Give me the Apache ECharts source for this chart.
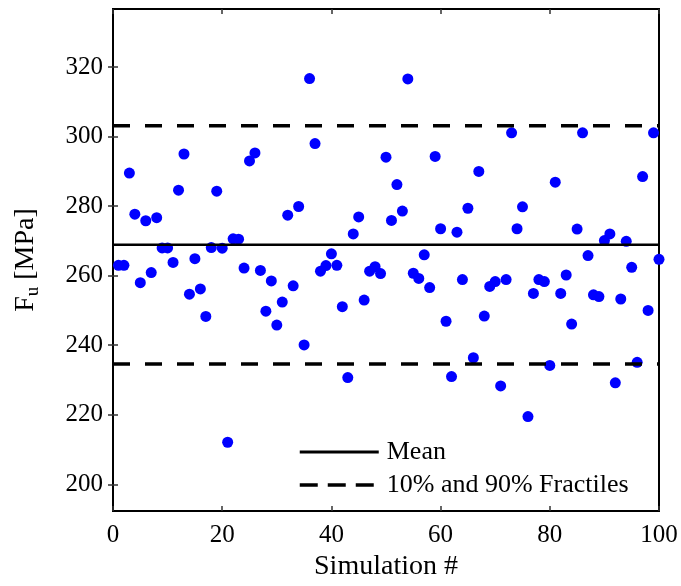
<!DOCTYPE html>
<html>
<head>
<meta charset="utf-8">
<script src="https://cdn.jsdelivr.net/npm/echarts@6/dist/echarts.min.js"></script>
<style>html,body{margin:0;padding:0;background:#fff}#c{width:681px;height:586px}</style>
</head>
<body>
<div id="c"></div>
<script>
// Simulation numbers 1..100
const simulations = [];
for (let i = 1; i <= 100; i++) simulations.push(i);
// F_u values [MPa]
const fuValues = [
  263.0, 263.0, 289.5, 277.7, 258.0, 275.8, 260.9, 276.7, 268.0, 268.0,
  263.8, 284.6, 295.0, 254.7, 264.9, 256.2, 248.3, 268.1, 284.3, 267.9,
  212.1, 270.6, 270.5, 262.2, 293.0, 295.3, 261.5, 249.8, 258.5, 245.8,
  252.4, 277.4, 257.1, 279.9, 240.1, 316.7, 298.0, 261.3, 262.9, 266.3,
  263.0, 251.1, 230.7, 272.0, 276.9, 253.0, 261.3, 262.6, 260.6, 294.1,
  275.9, 286.2, 278.6, 316.6, 260.7, 259.2, 266.0, 256.6, 294.3, 273.5,
  246.9, 231.0, 272.5, 258.9, 279.4, 236.4, 290.0, 248.4, 256.9, 258.3,
  228.3, 258.9, 301.1, 273.5, 279.8, 219.5, 254.9, 258.9, 258.3, 234.2,
  286.9, 254.9, 260.2, 246.1, 273.4, 301.1, 265.8, 254.5, 254.0, 270.1,
  272.0, 229.2, 253.3, 269.9, 262.4, 235.1, 288.5, 250.0, 301.1, 264.7
];
const meanValue = 268.9;
const fractileLow = 234.6;
const fractileHigh = 303.1;
const xRange = [0, 100];
const yRange = [192.3, 336.7];
const xTicks = [0, 20, 40, 60, 80, 100];
const yTicks = [200, 220, 240, 260, 280, 300, 320];
const legendNames = ['Mean', '10% and 90% Fractiles'];

const FONT = '"Liberation Serif", "Times New Roman", serif';
const scatterData = simulations.map((s, i) => [s, fuValues[i]]);
const meanData = [[xRange[0], meanValue], [xRange[1], meanValue]];
const fractData = [[xRange[0], fractileHigh], [xRange[1], fractileHigh], '-', [xRange[0], fractileLow], [xRange[1], fractileLow]];

const tickStyle = { inside: true, length: 5, lineStyle: { color: '#333', width: 1.5 } };

const chart = echarts.init(document.getElementById('c'), null, { renderer: 'canvas' });
chart.setOption({
  animation: false,
  backgroundColor: '#fff',
  grid: { left: 113, right: 22, top: 9, bottom: 72, show: true, borderColor: '#000', borderWidth: 2, containLabel: false },
  xAxis: [{
    type: 'value', min: xRange[0], max: xRange[1], interval: 20,
    name: 'Simulation #', nameLocation: 'middle', nameGap: 41,
    nameTextStyle: { fontFamily: FONT, fontSize: 28, color: '#000' },
    axisLine: { show: false }, splitLine: { show: false },
    axisTick: Object.assign({ customValues: xTicks }, tickStyle),
    axisLabel: { customValues: xTicks, fontFamily: FONT, fontSize: 25, color: '#000', margin: 12 }
  }, {
    type: 'value', position: 'top', min: xRange[0], max: xRange[1], interval: 20,
    axisLine: { show: false }, splitLine: { show: false },
    axisTick: Object.assign({ customValues: xTicks }, tickStyle),
    axisLabel: { show: false }
  }],
  yAxis: [{
    type: 'value', min: yRange[0], max: yRange[1],
    name: '{a|F}{b|u}{a| [MPa]}', nameLocation: 'middle', nameGap: 70, nameRotate: 90,
    nameTextStyle: {
      fontFamily: FONT, color: '#000',
      rich: {
        a: { fontFamily: FONT, fontSize: 28, color: '#000', lineHeight: 34 },
        b: { fontFamily: FONT, fontSize: 19, color: '#000', lineHeight: 14, verticalAlign: 'bottom' }
      }
    },
    axisLine: { show: false }, splitLine: { show: false },
    axisTick: Object.assign({ customValues: yTicks }, tickStyle),
    axisLabel: { customValues: yTicks, fontFamily: FONT, fontSize: 25, color: '#000', margin: 10 }
  }, {
    type: 'value', position: 'right', min: yRange[0], max: yRange[1],
    axisLine: { show: false }, splitLine: { show: false },
    axisTick: Object.assign({ customValues: yTicks }, tickStyle),
    axisLabel: { show: false }
  }],
  legend: {
    data: [
      { name: legendNames[0], lineStyle: { width: 3, type: 'solid', color: '#000' } },
      { name: legendNames[1], lineStyle: { width: 3.5, type: [18, 10], color: '#000' } }
    ],
    orient: 'vertical', left: 298, top: 439, padding: 0,
    itemWidth: 79, itemHeight: 14, itemGap: 7,
    itemStyle: { opacity: 0 },
    textStyle: { fontFamily: FONT, fontSize: 26, color: '#000', lineHeight: 24, padding: [0, 0, 0, 3] },
    backgroundColor: 'rgba(0,0,0,0)'
  },
  series: [{
    type: 'scatter', name: 'data', data: scatterData,
    symbol: 'circle', symbolSize: 11,
    itemStyle: { color: '#0000ff', opacity: 1 }, z: 2
  }, {
    type: 'line', name: legendNames[0], data: meanData,
    symbol: 'none', lineStyle: { color: '#000', width: 2.5, type: 'solid' },
    itemStyle: { color: '#000' }, z: 3, silent: true
  }, {
    type: 'line', name: legendNames[1], data: fractData, connectNulls: false,
    symbol: 'none', lineStyle: { color: '#000', width: 3.5, type: [17, 15] },
    itemStyle: { color: '#000' }, z: 3, silent: true
  }]
});
</script>
</body>
</html>
